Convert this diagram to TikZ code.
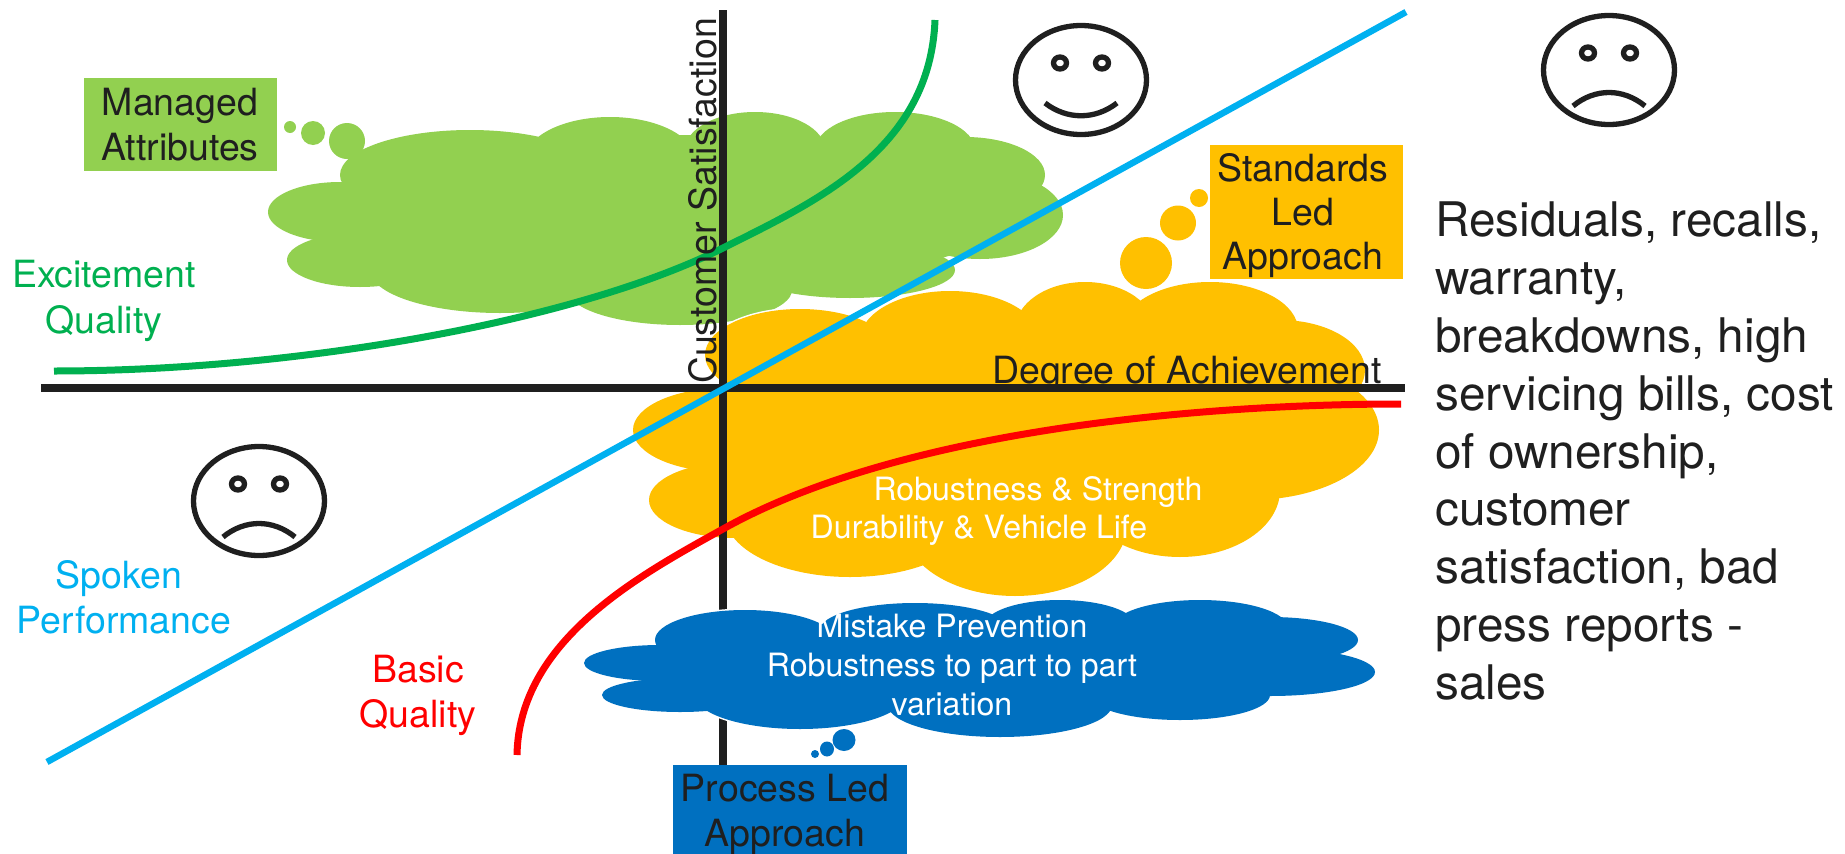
\documentclass[tikz,border=0pt]{standalone}
\usepackage{fontspec}
\setmainfont{TeX Gyre Heros}
\definecolor{cgreen}{HTML}{92D050}
\definecolor{corange}{HTML}{FFC000}
\definecolor{cblue}{HTML}{0070C0}
\definecolor{lgreen}{HTML}{00B050}
\definecolor{lblue}{HTML}{00B0F0}
\definecolor{ink}{HTML}{1F1F1F}
\newcommand{\blob}[2]{%
  \foreach \cx/\cy/\rx/\ry in {#2} {\draw[white,line width=3pt] (\cx,\cy) ellipse [x radius=\rx pt,y radius=\ry pt];}
  \foreach \cx/\cy/\rx/\ry in {#2} {\fill[#1] (\cx,\cy) ellipse [x radius=\rx pt,y radius=\ry pt];}
}
\newcommand{\face}[3]{%
  \draw[facelip] (#1,#2) ellipse [x radius=65.5pt,y radius=54.5pt];
  \draw[facelip] (#1-21,#2-17) ellipse [x radius=6.5pt,y radius=6pt];
  \draw[facelip] (#1+21,#2-17) ellipse [x radius=6.5pt,y radius=6pt];
  \ifnum#3=1
    \draw[facelip] (#1-36,#2+23) .. controls (#1-14,#2+40) and (#1+14,#2+40) .. (#1+36,#2+23);
  \else
    \draw[facelip] (#1-36,#2+36) .. controls (#1-14,#2+18) and (#1+14,#2+18) .. (#1+36,#2+36);
  \fi
}
\tikzset{
  x=1pt,y=-1pt,
  facelip/.style={draw=ink,line width=5.3pt},
  axisline/.style={draw=ink,line width=7.5pt},
  curveline/.style={line width=7pt},
  biglabel/.style={font=\fontsize{37.5}{45}\selectfont,text=ink,inner sep=0pt,anchor=base,align=center},
  innerlabel/.style={font=\fontsize{32.1}{38}\selectfont,text=white,inner sep=0pt,anchor=base},
}
\begin{document}
\begin{tikzpicture}
\useasboundingbox (0,0) rectangle (1845,854);
% green cloud
\blob{cgreen}{340/212/72/30,360/260/73/27,500/270/130/43,680/290/112/35,850/270/105/28,980/215/83/44,965/175/80/38,895/150/80/38,755/150/70/38,610/160/85/43,470/175/130/45,680/210/340/75,290/127/6/6,313/133/12/12,347/141/18/18}
\fill[cgreen] (84,78) rectangle (277,171);
% orange cloud
\blob{corange}{725/430/92/42,735/500/86/38,850/515/125/62,1015/525/112/71,1180/490/100/67,1250/430/129/70,1280/370/85/50,1210/330/88/48,1085/330/70/48,950/340/90/49,800/355/95/46,1000/430/280/110,1199/198/9/9,1178/223/18/17.5,1146/263/26/26}
\fill[corange] (1210,145) rectangle (1403,279);
% axes
\coordinate (ytop) at (723,10);
\coordinate (ybot) at (723,770);
\coordinate (xleft) at (41,388);
\coordinate (xright) at (1405,388);
\draw[axisline] (ytop) -- (ybot);
\draw[axisline] (xleft) -- (xright);
% blue cloud
\blob{cblue}{660/663/76/18,680/695/78/17,745/640/90/30,915/630/95/27,1060/625/75/25,1200/628/88/28,1270/640/88/23,1270/672/105/24,1180/695/90/25,1000/705/112/32,800/695/105/34,950/665/280/45,844/740/11.5/11,827/749/7/7.5,815/754/4/4}
\fill[cblue] (673,765) rectangle (907,860);
% curves
\coordinate (s1) at (47,762);
\coordinate (s2) at (1406,12);
\draw[lblue,line width=6.5pt] (s1) -- (s2);
\draw[lgreen,curveline] (54,371) .. controls (300,371) and (580,320) .. (723,248) .. controls (815,202) and (930,150) .. (935,20);
\draw[red,curveline] (517,755) .. controls (519,640) and (640,575) .. (723,529) .. controls (900,430) and (1200,404) .. (1401,404);
% faces
\face{1081}{80}{1}
\face{1609}{70}{0}
\face{259}{501}{0}
% labels
\node[biglabel] (managed) at (180,115) {Managed};
\node[biglabel] (attrs) at (180,160) {Attributes};
\node[biglabel,text=lgreen] (excite) at (104,287) {Excitement};
\node[biglabel,text=lgreen] (exciteq) at (104,333) {Quality};
\node[biglabel,text=lblue] (spoken) at (119,588) {Spoken};
\node[biglabel,text=lblue] (perf) at (124,633) {Performance};
\node[biglabel,text=red] (basic) at (418,682) {Basic};
\node[biglabel,text=red] (basicq) at (418,727) {Quality};
\node[biglabel] (std1) at (1303,181) {Standards};
\node[biglabel] (std2) at (1303,225) {Led};
\node[biglabel] (std3) at (1303,269) {Approach};
\node[biglabel] (degree) at (1187,383) {Degree of Achievement};
\node[biglabel,rotate=90] (csat) at (716,201) {Customer Satisfaction};
\node[biglabel] (proc1) at (785,801) {Process Led};
\node[biglabel] (proc2) at (785,846) {Approach};
\node[innerlabel] (rob) at (1038,500) {Robustness \& Strength};
\node[innerlabel] (dur) at (979,538) {Durability \& Vehicle Life};
\node[innerlabel] (mist) at (952,637) {Mistake Prevention};
\node[innerlabel] (robp) at (952,676) {Robustness to part to part};
\node[innerlabel] (vari) at (952,715) {variation};
\node[font=\fontsize{47.7}{57.8}\selectfont,text=ink,inner sep=0pt,anchor=north west,align=left] (resid) at (1435,202)
 {Residuals, recalls,\\warranty,\\breakdowns, high\\servicing bills, cost\\of ownership,\\customer\\satisfaction, bad\\press reports -\\sales};
\end{tikzpicture}
\end{document}
